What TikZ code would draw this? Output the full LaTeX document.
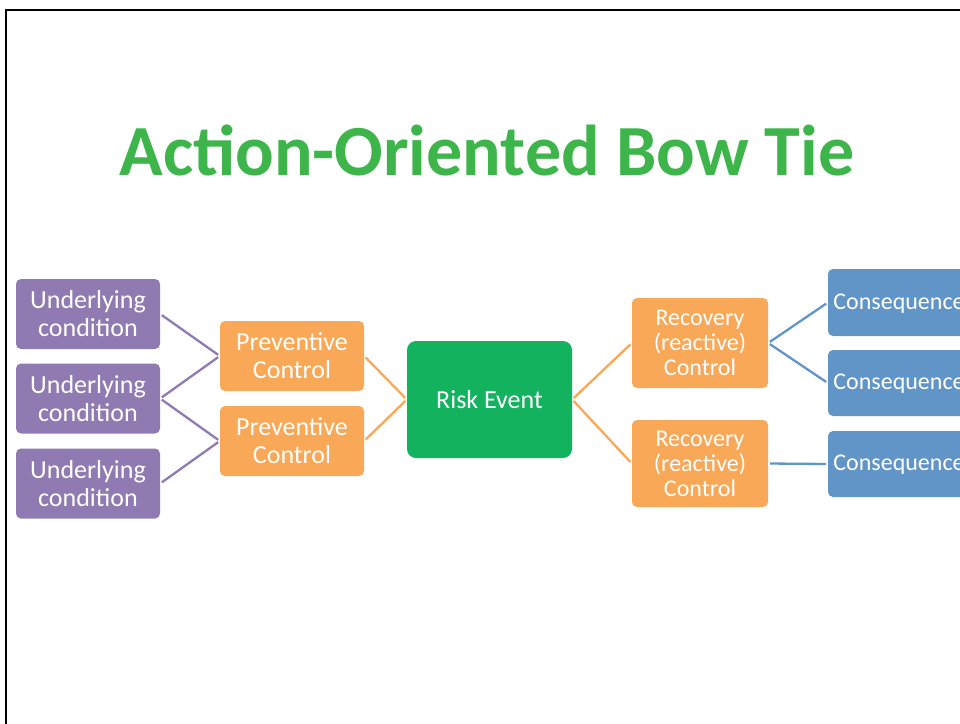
\documentclass[tikz,border=0pt]{standalone}
\usepackage{fontspec}
\setmainfont{Carlito}
\usepackage{tikz}

\definecolor{titlegreen}{HTML}{3DB54A}
\definecolor{condpurple}{HTML}{8F7BB2}
\definecolor{ctrlorange}{HTML}{F9A857}
\definecolor{riskgreen}{HTML}{12B25F}
\definecolor{conseqblue}{HTML}{6195C8}

\begin{document}
\begin{tikzpicture}[x=1pt, y=-1pt,
  box/.style={rectangle, rounded corners=5pt, inner sep=0pt, align=center, text=white},
  condbox/.style={box, fill=condpurple, minimum width=144pt, minimum height=70pt, font=\fontsize{26}{28}\selectfont},
  prevbox/.style={box, fill=ctrlorange, minimum width=144pt, minimum height=70pt, font=\fontsize{26}{28}\selectfont},
  recovbox/.style={box, fill=ctrlorange, minimum width=136pt, font=\fontsize{24}{25}\selectfont},
  conseqbox/.style={box, fill=conseqblue, minimum width=142pt, text depth=2pt, font=\fontsize{24}{26}\selectfont},
  link/.style={line width=2.3pt, shorten <=2pt, shorten >=2pt}]

\useasboundingbox (0,0) rectangle (960,723);
\clip (0,0) rectangle (960,723);

% slide frame
\draw[line width=2.5pt] (1100,10) -- (6,10) -- (6,800);

% title
\node[text=titlegreen, font=\fontsize{72}{80}\selectfont\bfseries] (title) at (487,150) {Action-Oriented Bow Tie};

% causes
\node[condbox] (cond1) at (88,314) {Underlying\\condition};
\node[condbox] (cond2) at (88,398.5) {Underlying\\condition};
\node[condbox] (cond3) at (88,483.5) {Underlying\\condition};

% preventive controls
\node[prevbox] (prev1) at (292,356) {Preventive\\Control};
\node[prevbox] (prev2) at (292,441) {Preventive\\Control};

% central event
\node[box, fill=riskgreen, rounded corners=9pt, minimum width=165pt, minimum height=117pt,
  font=\fontsize{26}{28}\selectfont] (risk) at (489.5,399.5) {Risk Event};

% recovery controls
\node[recovbox, minimum height=90pt] (recov1) at (700,343) {Recovery\\(reactive)\\Control};
\node[recovbox, minimum height=87pt] (recov2) at (700,463.5) {Recovery\\(reactive)\\Control};

% consequences
\node[conseqbox, minimum height=67pt] (cons1) at (899,302.5) {Consequence};
\node[conseqbox, minimum height=66pt] (cons2) at (899,383) {Consequence};
\node[conseqbox, minimum height=66pt] (cons3) at (899,464) {Consequence};

\draw[link, condpurple] (cond1.east) -- (prev1.west);
\draw[link, condpurple] (cond2.east) -- (prev1.west);
\draw[link, condpurple] (cond2.east) -- (prev2.west);
\draw[link, condpurple] (cond3.east) -- (prev2.west);
\draw[link, ctrlorange] (prev1.east) -- (risk.west);
\draw[link, ctrlorange] (prev2.east) -- (risk.west);
\draw[link, ctrlorange] (risk.east) -- (recov1.west);
\draw[link, ctrlorange] (risk.east) -- (recov2.west);
\draw[link, conseqblue] (recov1.east) -- (cons1.west);
\draw[link, conseqblue] (recov1.east) -- (cons2.west);
\draw[link, conseqblue] (recov2.east) -- (cons3.west);
\end{tikzpicture}
\end{document}
